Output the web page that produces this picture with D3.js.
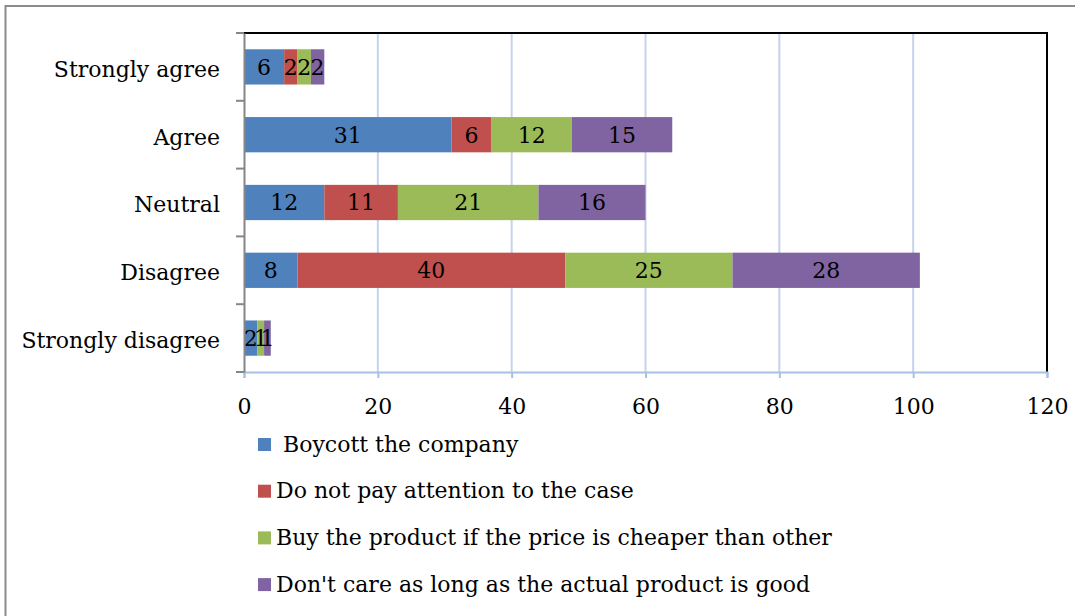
<!DOCTYPE html>
<html>
<head>
<meta charset="utf-8">
<script src="https://cdn.jsdelivr.net/npm/d3@7"></script>
<style>
  html, body { margin: 0; padding: 0; background: #fff; }
  svg { display: block; }
  text { font-family: "DejaVu Serif", "Liberation Serif", serif; fill: #000; }
</style>
</head>
<body>
<svg id="chart" width="1075" height="616"></svg>
<script>
// Response categories, top to bottom
const categories = ["Strongly agree", "Agree", "Neutral", "Disagree", "Strongly disagree"];

// Series (stacked left to right)
const seriesNames = [
  " Boycott the company",
  "Do not pay attention to the case",
  "Buy the product if the price is cheaper than other",
  "Don't care as long as the actual product is good"
];
const seriesColors = ["#4f81bd", "#c0504d", "#9bbb59", "#8064a2"];

const boycott     = [6, 31, 12, 8, 2];
const noAttention = [2, 6, 11, 40, 0];
const buyCheaper  = [2, 12, 21, 25, 1];
const dontCare    = [2, 15, 16, 28, 1];

const xTicks = [0, 20, 40, 60, 80, 100, 120];

const seriesValues = [boycott, noAttention, buyCheaper, dontCare];
const rows = categories.map((c, i) => {
  const r = { category: c };
  seriesNames.forEach((s, k) => { r[s] = seriesValues[k][i]; });
  return r;
});

const FONT = "22px";
const svg = d3.select("#chart");

// Outer chart frame
svg.append("rect")
  .attr("x", 5.5).attr("y", 6)
  .attr("width", 1100).attr("height", 700)
  .attr("fill", "none").attr("stroke", "#8c8c8c").attr("stroke-width", 2);

const plot = { left: 244, right: 1047, top: 33, bottom: 372 };

const x = d3.scaleLinear().domain([0, 120]).range([plot.left, plot.right]);
const y = d3.scaleBand().domain(categories).range([plot.top, plot.bottom])
  .paddingInner(0.48).paddingOuter(0.24);

// Vertical gridlines
svg.append("g").selectAll("line")
  .data(xTicks.filter(t => t > 0 && t < 120))
  .join("line")
  .attr("x1", d => x(d)).attr("x2", d => x(d))
  .attr("y1", plot.top).attr("y2", plot.bottom)
  .attr("stroke", "#c5d3ec").attr("stroke-width", 2);

// Stacked bars
const stack = d3.stack().keys(seriesNames)(rows);
const layers = svg.append("g").selectAll("g")
  .data(stack)
  .join("g")
  .attr("fill", (d, i) => seriesColors[i]);

layers.selectAll("rect")
  .data(d => d)
  .join("rect")
  .attr("x", d => x(d[0]))
  .attr("y", d => y(d.data.category))
  .attr("width", d => x(d[1]) - x(d[0]))
  .attr("height", y.bandwidth());

// Segment value labels
layers.selectAll("text")
  .data(d => d.filter(s => s[1] - s[0] > 0))
  .join("text")
  .attr("x", d => (x(d[0]) + x(d[1])) / 2)
  .attr("y", d => y(d.data.category) + y.bandwidth() / 2)
  .attr("dy", "0.36em")
  .attr("text-anchor", "middle")
  .style("font-size", FONT)
  .attr("fill", "#000")
  .text(d => d[1] - d[0]);

// Plot border: black top and right edges
svg.append("path")
  .attr("d", `M${plot.left},${plot.top}H${plot.right}V${plot.bottom}`)
  .attr("fill", "none").attr("stroke", "#000").attr("stroke-width", 2);

// Bottom value axis
const xAxis = svg.append("g")
  .attr("transform", `translate(0,${plot.bottom})`)
  .call(d3.axisBottom(x).tickValues(xTicks).tickSize(6).tickPadding(20));
xAxis.select(".domain").attr("stroke", "#a9bfe4").attr("stroke-width", 2);
xAxis.selectAll(".tick line").attr("stroke", "#a9bfe4").attr("stroke-width", 2);
xAxis.selectAll("text")
  .style("font-size", FONT)
  .style("font-family", "DejaVu Serif, serif")
  .attr("fill", "#000");

// Left category axis
const yAxis = svg.append("g")
  .attr("transform", `translate(${plot.left},0)`)
  .call(d3.axisLeft(y).tickSize(0).tickPadding(24));
yAxis.select(".domain").attr("stroke", "#868686").attr("stroke-width", 2);
yAxis.selectAll("text")
  .attr("dy", "0.45em")
  .style("font-size", FONT)
  .style("font-family", "DejaVu Serif, serif")
  .attr("fill", "#000");

// Tick marks between categories
const bounds = categories.map(c => y(c) - y.step() * y.paddingInner() / 2);
bounds.push(plot.bottom);
svg.append("g").selectAll("line")
  .data(bounds)
  .join("line")
  .attr("x1", plot.left - 8).attr("x2", plot.left)
  .attr("y1", d => d).attr("y2", d => d)
  .attr("stroke", "#868686").attr("stroke-width", 2);

// Legend
const legend = svg.append("g").selectAll("g")
  .data(seriesNames)
  .join("g")
  .attr("transform", (d, i) => `translate(258,${445 + i * 46.7})`);
legend.append("rect")
  .attr("x", 0).attr("y", -7)
  .attr("width", 13).attr("height", 13)
  .attr("fill", (d, i) => seriesColors[i]);
legend.append("text")
  .attr("x", 18).attr("y", 0)
  .attr("dy", "0.3em")
  .style("font-size", FONT)
  .style("white-space", "pre")
  .attr("xml:space", "preserve")
  .text(d => d);
</script>
</body>
</html>
